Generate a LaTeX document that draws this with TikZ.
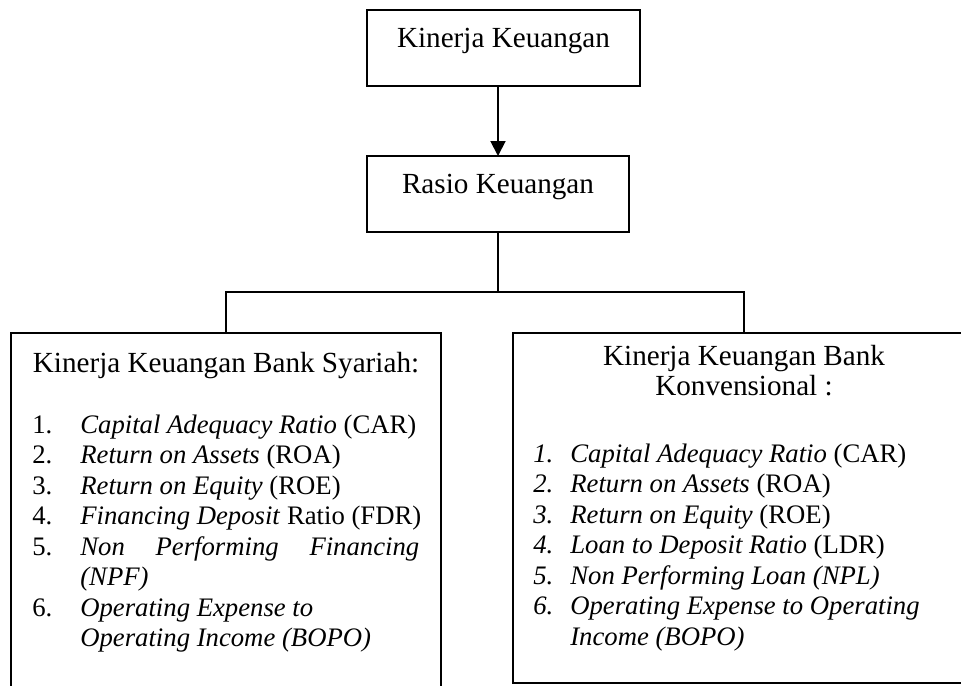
\documentclass[tikz,border=0pt]{standalone}
\usepackage{fontspec}
\setmainfont{Liberation Serif}
\usetikzlibrary{arrows.meta, positioning}

\begin{document}
\begin{tikzpicture}[
  x=0.02cm, y=-0.02cm,
  font=\fontsize{16.6}{17.4}\selectfont,
  box/.style={draw, line width=0.8pt, inner sep=0pt, outer sep=0pt},
  lbl/.style={inner sep=0pt, anchor=base},
  list/.style={inner sep=0pt, anchor=base west, font=\fontsize{15.2}{17.4}\selectfont},
  link/.style={line width=0.8pt},
  flow/.style={-{Triangle[length=8.5pt, width=8.5pt]}, line width=1.1pt}
]
  \useasboundingbox (0,0) rectangle (961,686);
  \clip (0,0) rectangle (961,686);

  % top of the tree
  \node[box, minimum width=5.46cm, minimum height=1.52cm] (kinerja) at (503.5,48) {};
  \node[lbl] (kinerjatxt) at (kinerja.center) {Kinerja Keuangan};
  \node[box, minimum width=5.24cm, minimum height=1.52cm] (rasio) at (498,194) {};
  \node[lbl] (rasiotxt) at (rasio.center) {Rasio Keuangan};

  \draw[flow] (rasio.north |- kinerja.south) -- (rasio.north);

  % the two banks
  \node[box, minimum width=8.6cm, minimum height=7.34cm] (syariah) at (226,516.5) {};
  \node[box, minimum width=9.24cm, minimum height=7.0cm] (konv) at (744,508) {};

  \coordinate (split) at ([yshift=-1.2cm]rasio.south);
  \draw[link] (rasio.south) -- (split);
  \draw[link] (syariah.north) |- (split) -| (konv.north);

  \node[lbl] (syariahtxt) at ([yshift=-0.78cm]syariah.north)
    {Kinerja Keuangan Bank Syariah:};
  \node[lbl] (konvtxt) at ([yshift=-0.64cm]konv.north)
    {\begin{tabular}[t]{@{}c@{}}Kinerja Keuangan Bank\\Konvensional :\end{tabular}};

  \node[list] (syariahlist) at (32,433)
    {\begin{tabular}[t]{@{}p{0.96cm}@{}l@{}}
      1. & \textit{Capital Adequacy Ratio} (CAR)\\
      2. & \textit{Return on Assets} (ROA)\\
      3. & \textit{Return on Equity} (ROE)\\
      4. & \textit{Financing Deposit} Ratio (FDR)\\
      5. & \makebox[6.78cm][s]{\textit{Non Performing Financing}}\\
         & \textit{(NPF)}\\
      6. & \textit{Operating Expense to}\\
         & \textit{Operating Income (BOPO)}
    \end{tabular}};

  \node[list] (konvlist) at (533,462)
    {\begin{tabular}[t]{@{}p{0.74cm}@{}l@{}}
      \textit{1.} & \textit{Capital Adequacy Ratio} (CAR)\\
      \textit{2.} & \textit{Return on Assets} (ROA)\\
      \textit{3.} & \textit{Return on Equity} (ROE)\\
      \textit{4.} & \textit{Loan to Deposit Ratio} (LDR)\\
      \textit{5.} & \textit{Non Performing Loan (NPL)}\\
      \textit{6.} & \textit{Operating Expense to Operating}\\
         & \textit{Income (BOPO)}
    \end{tabular}};
\end{tikzpicture}
\end{document}
